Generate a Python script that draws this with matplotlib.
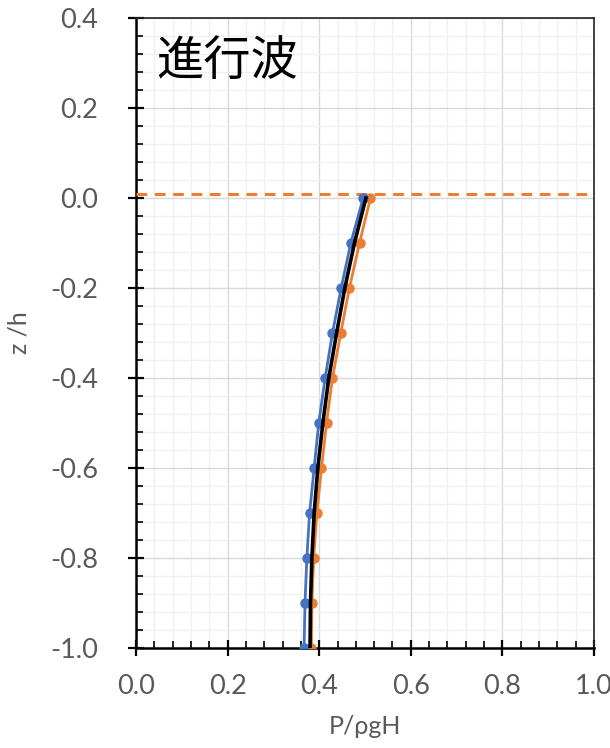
import numpy as np
import matplotlib
matplotlib.use("Agg")
import matplotlib.pyplot as plt
import matplotlib.ticker as ticker

plt.rcParams['axes.unicode_minus'] = False
plt.rcParams['font.family'] = ['Lato', 'DejaVu Sans']

# depth levels (z/h) of the measured points
z_pts = [0.0, -0.1, -0.2, -0.3, -0.4, -0.5, -0.6, -0.7, -0.8, -0.9, -1.0]
p_blue = [0.496, 0.469, 0.448, 0.429, 0.413, 0.399, 0.389, 0.379, 0.373, 0.369, 0.367]
p_orange = [0.512, 0.488, 0.466, 0.447, 0.429, 0.416, 0.405, 0.395, 0.388, 0.384, 0.383]

# theory curve
z_theory = [0.0, -0.1, -0.2, -0.3, -0.4, -0.5, -0.6, -0.7, -0.8, -0.9, -1.0]
p_theory = [0.502, 0.477, 0.456, 0.438, 0.421, 0.408, 0.397, 0.389, 0.384, 0.381, 0.380]

# still water level marker
swl = 0.01

BLUE = "#4472C4"
ORANGE = "#ED7D31"
GRAY = "#595959"

fig = plt.figure(figsize=(6.10, 7.48), dpi=100)
ax = fig.add_axes([136/610, 100/748, 458/610, 630/748])

ax.axhline(swl, color=ORANGE, lw=2.2, ls=(0, (3.5, 2.5)), zorder=3)
ax.plot(p_orange, z_pts, color=ORANGE, lw=2.0, marker='o', ms=6.5, zorder=4)
ax.plot(p_blue, z_pts, color=BLUE, lw=2.0, marker='o', ms=6.5, zorder=5)
ax.plot(p_theory, z_theory, color='black', lw=2.6, zorder=6)

ax.set_xlim(0, 1.0)
ax.set_ylim(-1.0, 0.4)
ax.xaxis.set_major_locator(ticker.MultipleLocator(0.2))
ax.xaxis.set_minor_locator(ticker.MultipleLocator(0.04))
ax.yaxis.set_major_locator(ticker.MultipleLocator(0.2))
ax.yaxis.set_minor_locator(ticker.MultipleLocator(0.04))
ax.xaxis.set_major_formatter(ticker.FormatStrFormatter('%.1f'))
ax.yaxis.set_major_formatter(ticker.FormatStrFormatter('%.1f'))

ax.grid(True, which='major', color='#d9d9d9', lw=1.0, zorder=0)
ax.grid(True, which='minor', color='#f0f0f0', lw=1.0, zorder=0)
ax.set_axisbelow(True)

for s in ['left', 'bottom']:
    ax.spines[s].set_linewidth(1.8)
    ax.spines[s].set_color('black')
for s in ['top', 'right']:
    ax.spines[s].set_linewidth(1.2)
    ax.spines[s].set_color('#222222')

ax.tick_params(which='major', direction='inout', length=11, width=1.6,
               color='black', labelsize=19.5, labelcolor=GRAY)
ax.tick_params(axis='y', which='major', pad=22)
ax.tick_params(axis='x', which='major', pad=13)
ax.tick_params(which='minor', direction='in', length=5, width=1.2, color='black')

ax.set_xlabel('P/ρgH', fontsize=18, color=GRAY, labelpad=12)
ax.set_ylabel('z /h', fontsize=18, color=GRAY, labelpad=14)

ax.text(0.045, 0.93, '進行波', transform=ax.transAxes, fontsize=34,
        family=['Noto Sans CJK JP', 'DejaVu Sans'], color='black',
        ha='left', va='center')

fig.savefig('out.png', dpi=100)
